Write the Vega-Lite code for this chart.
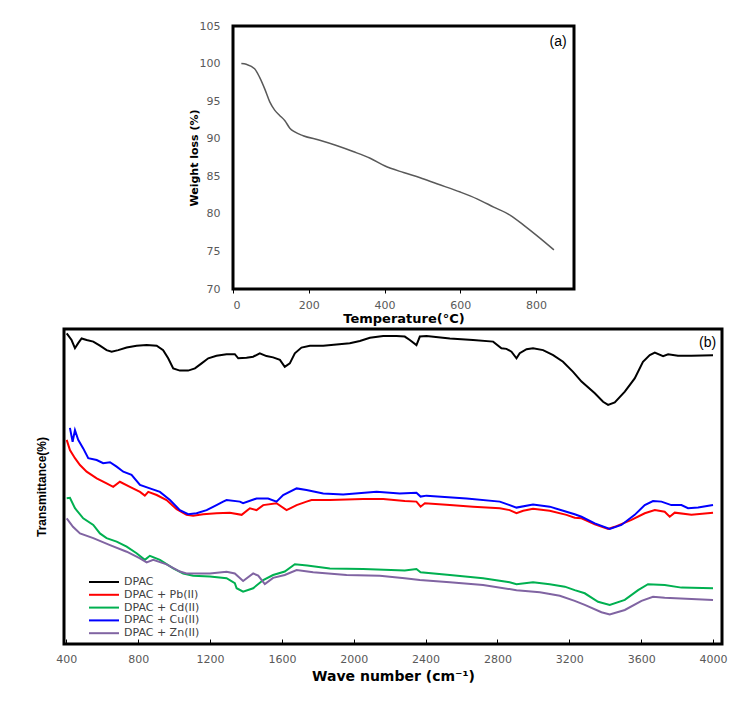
{
  "$schema": "https://vega.github.io/schema/vega-lite/v6.json",
  "background": "white",
  "padding": {"left": 33, "top": 18, "right": 5, "bottom": 5},
  "spacing": 0,
  "config": {
    "view": {"stroke": "black", "strokeWidth": 3},
    "font": "DejaVu Sans",
    "axis": {"grid": false, "domain": false, "labelOverlap": false, "labelFont": "DejaVu Sans", "titleFont": "DejaVu Sans", "labelColor": "#595959", "titleColor": "black", "titleFontWeight": "bold", "tickColor": "black"}
  },
  "resolve": {"scale": {"color": "independent"}, "legend": {"color": "independent"}},
  "datasets": {
    "tga": [
      {"temperature": 22, "weight": 100.0},
      {"temperature": 35, "weight": 99.9},
      {"temperature": 57, "weight": 99.3},
      {"temperature": 70, "weight": 98.2},
      {"temperature": 84, "weight": 96.6},
      {"temperature": 97, "weight": 94.9},
      {"temperature": 110, "weight": 93.8},
      {"temperature": 123, "weight": 93.1},
      {"temperature": 137, "weight": 92.4},
      {"temperature": 150, "weight": 91.4},
      {"temperature": 163, "weight": 90.9},
      {"temperature": 185, "weight": 90.4},
      {"temperature": 229, "weight": 89.8},
      {"temperature": 273, "weight": 89.1},
      {"temperature": 317, "weight": 88.3},
      {"temperature": 362, "weight": 87.4},
      {"temperature": 400, "weight": 86.4},
      {"temperature": 450, "weight": 85.5},
      {"temperature": 494, "weight": 84.8},
      {"temperature": 538, "weight": 84.0},
      {"temperature": 600, "weight": 82.9},
      {"temperature": 644, "weight": 82.0},
      {"temperature": 688, "weight": 80.9},
      {"temperature": 732, "weight": 79.8},
      {"temperature": 767, "weight": 78.5},
      {"temperature": 802, "weight": 77.1},
      {"temperature": 847, "weight": 75.2}
    ],
    "tagA": [{"temperature": 858, "weight": 102.9, "label": "(a)"}],
    "tagB": [{"wavenumber": 3970, "transmittance": 95.6, "label": "(b)"}],
    "ftir": [
      {"series": "DPAC", "wavenumber": 402, "transmittance": 98.6},
      {"series": "DPAC", "wavenumber": 429, "transmittance": 96.5},
      {"series": "DPAC", "wavenumber": 448, "transmittance": 93.9},
      {"series": "DPAC", "wavenumber": 466, "transmittance": 95.5},
      {"series": "DPAC", "wavenumber": 485, "transmittance": 97.0},
      {"series": "DPAC", "wavenumber": 513, "transmittance": 96.5},
      {"series": "DPAC", "wavenumber": 550, "transmittance": 96.0},
      {"series": "DPAC", "wavenumber": 587, "transmittance": 94.7},
      {"series": "DPAC", "wavenumber": 624, "transmittance": 93.3},
      {"series": "DPAC", "wavenumber": 652, "transmittance": 92.8},
      {"series": "DPAC", "wavenumber": 689, "transmittance": 93.3},
      {"series": "DPAC", "wavenumber": 736, "transmittance": 94.1},
      {"series": "DPAC", "wavenumber": 791, "transmittance": 94.7},
      {"series": "DPAC", "wavenumber": 847, "transmittance": 94.9},
      {"series": "DPAC", "wavenumber": 903, "transmittance": 94.7},
      {"series": "DPAC", "wavenumber": 939, "transmittance": 93.3},
      {"series": "DPAC", "wavenumber": 967, "transmittance": 90.7},
      {"series": "DPAC", "wavenumber": 995, "transmittance": 87.5},
      {"series": "DPAC", "wavenumber": 1032, "transmittance": 86.8},
      {"series": "DPAC", "wavenumber": 1078, "transmittance": 86.8},
      {"series": "DPAC", "wavenumber": 1116, "transmittance": 87.5},
      {"series": "DPAC", "wavenumber": 1153, "transmittance": 89.1},
      {"series": "DPAC", "wavenumber": 1190, "transmittance": 90.7},
      {"series": "DPAC", "wavenumber": 1236, "transmittance": 91.5},
      {"series": "DPAC", "wavenumber": 1292, "transmittance": 92.0},
      {"series": "DPAC", "wavenumber": 1338, "transmittance": 92.0},
      {"series": "DPAC", "wavenumber": 1357, "transmittance": 90.7},
      {"series": "DPAC", "wavenumber": 1403, "transmittance": 90.9},
      {"series": "DPAC", "wavenumber": 1440, "transmittance": 91.2},
      {"series": "DPAC", "wavenumber": 1477, "transmittance": 92.3},
      {"series": "DPAC", "wavenumber": 1514, "transmittance": 91.4},
      {"series": "DPAC", "wavenumber": 1551, "transmittance": 91.0},
      {"series": "DPAC", "wavenumber": 1589, "transmittance": 90.2},
      {"series": "DPAC", "wavenumber": 1616, "transmittance": 88.0},
      {"series": "DPAC", "wavenumber": 1644, "transmittance": 89.1},
      {"series": "DPAC", "wavenumber": 1672, "transmittance": 92.3},
      {"series": "DPAC", "wavenumber": 1709, "transmittance": 94.1},
      {"series": "DPAC", "wavenumber": 1756, "transmittance": 94.7},
      {"series": "DPAC", "wavenumber": 1830, "transmittance": 94.7},
      {"series": "DPAC", "wavenumber": 1904, "transmittance": 95.1},
      {"series": "DPAC", "wavenumber": 1978, "transmittance": 95.5},
      {"series": "DPAC", "wavenumber": 2034, "transmittance": 96.2},
      {"series": "DPAC", "wavenumber": 2090, "transmittance": 97.2},
      {"series": "DPAC", "wavenumber": 2164, "transmittance": 97.8},
      {"series": "DPAC", "wavenumber": 2238, "transmittance": 97.8},
      {"series": "DPAC", "wavenumber": 2284, "transmittance": 97.6},
      {"series": "DPAC", "wavenumber": 2312, "transmittance": 96.5},
      {"series": "DPAC", "wavenumber": 2349, "transmittance": 94.9},
      {"series": "DPAC", "wavenumber": 2368, "transmittance": 97.6},
      {"series": "DPAC", "wavenumber": 2405, "transmittance": 97.8},
      {"series": "DPAC", "wavenumber": 2535, "transmittance": 97.0},
      {"series": "DPAC", "wavenumber": 2664, "transmittance": 96.5},
      {"series": "DPAC", "wavenumber": 2776, "transmittance": 96.0},
      {"series": "DPAC", "wavenumber": 2822, "transmittance": 93.9},
      {"series": "DPAC", "wavenumber": 2850, "transmittance": 93.7},
      {"series": "DPAC", "wavenumber": 2878, "transmittance": 92.8},
      {"series": "DPAC", "wavenumber": 2906, "transmittance": 90.7},
      {"series": "DPAC", "wavenumber": 2924, "transmittance": 92.3},
      {"series": "DPAC", "wavenumber": 2962, "transmittance": 93.6},
      {"series": "DPAC", "wavenumber": 2998, "transmittance": 93.9},
      {"series": "DPAC", "wavenumber": 3054, "transmittance": 93.3},
      {"series": "DPAC", "wavenumber": 3110, "transmittance": 91.7},
      {"series": "DPAC", "wavenumber": 3165, "transmittance": 89.6},
      {"series": "DPAC", "wavenumber": 3221, "transmittance": 86.4},
      {"series": "DPAC", "wavenumber": 3268, "transmittance": 83.3},
      {"series": "DPAC", "wavenumber": 3342, "transmittance": 79.6},
      {"series": "DPAC", "wavenumber": 3388, "transmittance": 76.9},
      {"series": "DPAC", "wavenumber": 3416, "transmittance": 75.9},
      {"series": "DPAC", "wavenumber": 3453, "transmittance": 76.7},
      {"series": "DPAC", "wavenumber": 3509, "transmittance": 80.1},
      {"series": "DPAC", "wavenumber": 3564, "transmittance": 84.3},
      {"series": "DPAC", "wavenumber": 3610, "transmittance": 89.6},
      {"series": "DPAC", "wavenumber": 3648, "transmittance": 91.7},
      {"series": "DPAC", "wavenumber": 3676, "transmittance": 92.5},
      {"series": "DPAC", "wavenumber": 3722, "transmittance": 91.4},
      {"series": "DPAC", "wavenumber": 3750, "transmittance": 92.0},
      {"series": "DPAC", "wavenumber": 3805, "transmittance": 91.5},
      {"series": "DPAC", "wavenumber": 3880, "transmittance": 91.5},
      {"series": "DPAC", "wavenumber": 4000, "transmittance": 91.7},

      {"series": "DPAC + Pb(II)", "wavenumber": 402, "transmittance": 64.8},
      {"series": "DPAC + Pb(II)", "wavenumber": 420, "transmittance": 61.6},
      {"series": "DPAC + Pb(II)", "wavenumber": 448, "transmittance": 59.0},
      {"series": "DPAC + Pb(II)", "wavenumber": 476, "transmittance": 56.8},
      {"series": "DPAC + Pb(II)", "wavenumber": 513, "transmittance": 54.7},
      {"series": "DPAC + Pb(II)", "wavenumber": 569, "transmittance": 52.6},
      {"series": "DPAC + Pb(II)", "wavenumber": 624, "transmittance": 51.0},
      {"series": "DPAC + Pb(II)", "wavenumber": 661, "transmittance": 49.9},
      {"series": "DPAC + Pb(II)", "wavenumber": 698, "transmittance": 51.5},
      {"series": "DPAC + Pb(II)", "wavenumber": 754, "transmittance": 49.9},
      {"series": "DPAC + Pb(II)", "wavenumber": 810, "transmittance": 48.3},
      {"series": "DPAC + Pb(II)", "wavenumber": 837, "transmittance": 47.1},
      {"series": "DPAC + Pb(II)", "wavenumber": 856, "transmittance": 48.3},
      {"series": "DPAC + Pb(II)", "wavenumber": 903, "transmittance": 47.3},
      {"series": "DPAC + Pb(II)", "wavenumber": 958, "transmittance": 45.7},
      {"series": "DPAC + Pb(II)", "wavenumber": 1014, "transmittance": 42.8},
      {"series": "DPAC + Pb(II)", "wavenumber": 1069, "transmittance": 41.0},
      {"series": "DPAC + Pb(II)", "wavenumber": 1106, "transmittance": 40.7},
      {"series": "DPAC + Pb(II)", "wavenumber": 1162, "transmittance": 41.2},
      {"series": "DPAC + Pb(II)", "wavenumber": 1236, "transmittance": 41.5},
      {"series": "DPAC + Pb(II)", "wavenumber": 1310, "transmittance": 41.7},
      {"series": "DPAC + Pb(II)", "wavenumber": 1376, "transmittance": 41.0},
      {"series": "DPAC + Pb(II)", "wavenumber": 1422, "transmittance": 43.1},
      {"series": "DPAC + Pb(II)", "wavenumber": 1459, "transmittance": 42.5},
      {"series": "DPAC + Pb(II)", "wavenumber": 1496, "transmittance": 44.1},
      {"series": "DPAC + Pb(II)", "wavenumber": 1570, "transmittance": 44.7},
      {"series": "DPAC + Pb(II)", "wavenumber": 1626, "transmittance": 42.5},
      {"series": "DPAC + Pb(II)", "wavenumber": 1682, "transmittance": 44.1},
      {"series": "DPAC + Pb(II)", "wavenumber": 1737, "transmittance": 45.2},
      {"series": "DPAC + Pb(II)", "wavenumber": 1765, "transmittance": 45.7},
      {"series": "DPAC + Pb(II)", "wavenumber": 1867, "transmittance": 45.7},
      {"series": "DPAC + Pb(II)", "wavenumber": 2052, "transmittance": 46.0},
      {"series": "DPAC + Pb(II)", "wavenumber": 2164, "transmittance": 46.0},
      {"series": "DPAC + Pb(II)", "wavenumber": 2284, "transmittance": 45.4},
      {"series": "DPAC + Pb(II)", "wavenumber": 2349, "transmittance": 45.2},
      {"series": "DPAC + Pb(II)", "wavenumber": 2372, "transmittance": 43.6},
      {"series": "DPAC + Pb(II)", "wavenumber": 2396, "transmittance": 44.7},
      {"series": "DPAC + Pb(II)", "wavenumber": 2535, "transmittance": 44.1},
      {"series": "DPAC + Pb(II)", "wavenumber": 2664, "transmittance": 43.6},
      {"series": "DPAC + Pb(II)", "wavenumber": 2813, "transmittance": 43.1},
      {"series": "DPAC + Pb(II)", "wavenumber": 2868, "transmittance": 42.5},
      {"series": "DPAC + Pb(II)", "wavenumber": 2906, "transmittance": 41.5},
      {"series": "DPAC + Pb(II)", "wavenumber": 2943, "transmittance": 42.3},
      {"series": "DPAC + Pb(II)", "wavenumber": 2998, "transmittance": 42.9},
      {"series": "DPAC + Pb(II)", "wavenumber": 3091, "transmittance": 42.3},
      {"series": "DPAC + Pb(II)", "wavenumber": 3184, "transmittance": 41.0},
      {"series": "DPAC + Pb(II)", "wavenumber": 3230, "transmittance": 40.1},
      {"series": "DPAC + Pb(II)", "wavenumber": 3268, "transmittance": 39.9},
      {"series": "DPAC + Pb(II)", "wavenumber": 3342, "transmittance": 38.0},
      {"series": "DPAC + Pb(II)", "wavenumber": 3416, "transmittance": 36.5},
      {"series": "DPAC + Pb(II)", "wavenumber": 3453, "transmittance": 37.2},
      {"series": "DPAC + Pb(II)", "wavenumber": 3546, "transmittance": 39.4},
      {"series": "DPAC + Pb(II)", "wavenumber": 3620, "transmittance": 41.5},
      {"series": "DPAC + Pb(II)", "wavenumber": 3676, "transmittance": 42.5},
      {"series": "DPAC + Pb(II)", "wavenumber": 3731, "transmittance": 42.0},
      {"series": "DPAC + Pb(II)", "wavenumber": 3759, "transmittance": 40.4},
      {"series": "DPAC + Pb(II)", "wavenumber": 3787, "transmittance": 41.7},
      {"series": "DPAC + Pb(II)", "wavenumber": 3880, "transmittance": 41.0},
      {"series": "DPAC + Pb(II)", "wavenumber": 4000, "transmittance": 41.7},

      {"series": "DPAC + Cd(II)", "wavenumber": 402, "transmittance": 46.3},
      {"series": "DPAC + Cd(II)", "wavenumber": 420, "transmittance": 46.4},
      {"series": "DPAC + Cd(II)", "wavenumber": 448, "transmittance": 43.1},
      {"series": "DPAC + Cd(II)", "wavenumber": 494, "transmittance": 39.9},
      {"series": "DPAC + Cd(II)", "wavenumber": 550, "transmittance": 37.8},
      {"series": "DPAC + Cd(II)", "wavenumber": 587, "transmittance": 35.1},
      {"series": "DPAC + Cd(II)", "wavenumber": 624, "transmittance": 33.6},
      {"series": "DPAC + Cd(II)", "wavenumber": 680, "transmittance": 32.5},
      {"series": "DPAC + Cd(II)", "wavenumber": 736, "transmittance": 30.9},
      {"series": "DPAC + Cd(II)", "wavenumber": 791, "transmittance": 28.8},
      {"series": "DPAC + Cd(II)", "wavenumber": 837, "transmittance": 26.7},
      {"series": "DPAC + Cd(II)", "wavenumber": 865, "transmittance": 28.0},
      {"series": "DPAC + Cd(II)", "wavenumber": 921, "transmittance": 26.7},
      {"series": "DPAC + Cd(II)", "wavenumber": 995, "transmittance": 24.0},
      {"series": "DPAC + Cd(II)", "wavenumber": 1051, "transmittance": 22.4},
      {"series": "DPAC + Cd(II)", "wavenumber": 1106, "transmittance": 21.7},
      {"series": "DPAC + Cd(II)", "wavenumber": 1199, "transmittance": 21.4},
      {"series": "DPAC + Cd(II)", "wavenumber": 1292, "transmittance": 20.9},
      {"series": "DPAC + Cd(II)", "wavenumber": 1338, "transmittance": 19.3},
      {"series": "DPAC + Cd(II)", "wavenumber": 1348, "transmittance": 17.7},
      {"series": "DPAC + Cd(II)", "wavenumber": 1384, "transmittance": 16.6},
      {"series": "DPAC + Cd(II)", "wavenumber": 1440, "transmittance": 17.7},
      {"series": "DPAC + Cd(II)", "wavenumber": 1496, "transmittance": 20.3},
      {"series": "DPAC + Cd(II)", "wavenumber": 1551, "transmittance": 21.9},
      {"series": "DPAC + Cd(II)", "wavenumber": 1616, "transmittance": 23.0},
      {"series": "DPAC + Cd(II)", "wavenumber": 1672, "transmittance": 25.3},
      {"series": "DPAC + Cd(II)", "wavenumber": 1741, "transmittance": 24.9},
      {"series": "DPAC + Cd(II)", "wavenumber": 1867, "transmittance": 24.0},
      {"series": "DPAC + Cd(II)", "wavenumber": 2052, "transmittance": 23.8},
      {"series": "DPAC + Cd(II)", "wavenumber": 2284, "transmittance": 23.3},
      {"series": "DPAC + Cd(II)", "wavenumber": 2349, "transmittance": 23.8},
      {"series": "DPAC + Cd(II)", "wavenumber": 2372, "transmittance": 22.8},
      {"series": "DPAC + Cd(II)", "wavenumber": 2535, "transmittance": 21.9},
      {"series": "DPAC + Cd(II)", "wavenumber": 2720, "transmittance": 20.9},
      {"series": "DPAC + Cd(II)", "wavenumber": 2868, "transmittance": 19.6},
      {"series": "DPAC + Cd(II)", "wavenumber": 2906, "transmittance": 19.0},
      {"series": "DPAC + Cd(II)", "wavenumber": 2998, "transmittance": 19.6},
      {"series": "DPAC + Cd(II)", "wavenumber": 3091, "transmittance": 19.0},
      {"series": "DPAC + Cd(II)", "wavenumber": 3175, "transmittance": 18.2},
      {"series": "DPAC + Cd(II)", "wavenumber": 3230, "transmittance": 17.1},
      {"series": "DPAC + Cd(II)", "wavenumber": 3286, "transmittance": 16.1},
      {"series": "DPAC + Cd(II)", "wavenumber": 3360, "transmittance": 13.4},
      {"series": "DPAC + Cd(II)", "wavenumber": 3425, "transmittance": 12.4},
      {"series": "DPAC + Cd(II)", "wavenumber": 3509, "transmittance": 14.0},
      {"series": "DPAC + Cd(II)", "wavenumber": 3583, "transmittance": 17.1},
      {"series": "DPAC + Cd(II)", "wavenumber": 3638, "transmittance": 19.0},
      {"series": "DPAC + Cd(II)", "wavenumber": 3731, "transmittance": 18.7},
      {"series": "DPAC + Cd(II)", "wavenumber": 3824, "transmittance": 17.9},
      {"series": "DPAC + Cd(II)", "wavenumber": 4000, "transmittance": 17.7},

      {"series": "DPAC + Cu(II)", "wavenumber": 420, "transmittance": 68.6},
      {"series": "DPAC + Cu(II)", "wavenumber": 435, "transmittance": 64.2},
      {"series": "DPAC + Cu(II)", "wavenumber": 448, "transmittance": 67.9},
      {"series": "DPAC + Cu(II)", "wavenumber": 466, "transmittance": 64.8},
      {"series": "DPAC + Cu(II)", "wavenumber": 494, "transmittance": 62.1},
      {"series": "DPAC + Cu(II)", "wavenumber": 522, "transmittance": 59.0},
      {"series": "DPAC + Cu(II)", "wavenumber": 569, "transmittance": 58.4},
      {"series": "DPAC + Cu(II)", "wavenumber": 605, "transmittance": 57.4},
      {"series": "DPAC + Cu(II)", "wavenumber": 643, "transmittance": 57.7},
      {"series": "DPAC + Cu(II)", "wavenumber": 680, "transmittance": 56.3},
      {"series": "DPAC + Cu(II)", "wavenumber": 717, "transmittance": 54.7},
      {"series": "DPAC + Cu(II)", "wavenumber": 763, "transmittance": 53.7},
      {"series": "DPAC + Cu(II)", "wavenumber": 810, "transmittance": 50.5},
      {"series": "DPAC + Cu(II)", "wavenumber": 865, "transmittance": 49.4},
      {"series": "DPAC + Cu(II)", "wavenumber": 921, "transmittance": 48.3},
      {"series": "DPAC + Cu(II)", "wavenumber": 977, "transmittance": 45.7},
      {"series": "DPAC + Cu(II)", "wavenumber": 1032, "transmittance": 42.5},
      {"series": "DPAC + Cu(II)", "wavenumber": 1078, "transmittance": 41.2},
      {"series": "DPAC + Cu(II)", "wavenumber": 1125, "transmittance": 41.5},
      {"series": "DPAC + Cu(II)", "wavenumber": 1181, "transmittance": 42.5},
      {"series": "DPAC + Cu(II)", "wavenumber": 1236, "transmittance": 44.1},
      {"series": "DPAC + Cu(II)", "wavenumber": 1273, "transmittance": 45.2},
      {"series": "DPAC + Cu(II)", "wavenumber": 1292, "transmittance": 45.7},
      {"series": "DPAC + Cu(II)", "wavenumber": 1366, "transmittance": 45.2},
      {"series": "DPAC + Cu(II)", "wavenumber": 1384, "transmittance": 44.7},
      {"series": "DPAC + Cu(II)", "wavenumber": 1459, "transmittance": 46.2},
      {"series": "DPAC + Cu(II)", "wavenumber": 1523, "transmittance": 46.2},
      {"series": "DPAC + Cu(II)", "wavenumber": 1570, "transmittance": 45.2},
      {"series": "DPAC + Cu(II)", "wavenumber": 1607, "transmittance": 47.3},
      {"series": "DPAC + Cu(II)", "wavenumber": 1682, "transmittance": 49.4},
      {"series": "DPAC + Cu(II)", "wavenumber": 1737, "transmittance": 48.9},
      {"series": "DPAC + Cu(II)", "wavenumber": 1830, "transmittance": 47.8},
      {"series": "DPAC + Cu(II)", "wavenumber": 1941, "transmittance": 47.5},
      {"series": "DPAC + Cu(II)", "wavenumber": 2127, "transmittance": 48.3},
      {"series": "DPAC + Cu(II)", "wavenumber": 2256, "transmittance": 47.8},
      {"series": "DPAC + Cu(II)", "wavenumber": 2349, "transmittance": 48.0},
      {"series": "DPAC + Cu(II)", "wavenumber": 2372, "transmittance": 46.8},
      {"series": "DPAC + Cu(II)", "wavenumber": 2405, "transmittance": 47.1},
      {"series": "DPAC + Cu(II)", "wavenumber": 2628, "transmittance": 46.2},
      {"series": "DPAC + Cu(II)", "wavenumber": 2813, "transmittance": 45.2},
      {"series": "DPAC + Cu(II)", "wavenumber": 2906, "transmittance": 43.3},
      {"series": "DPAC + Cu(II)", "wavenumber": 2998, "transmittance": 44.3},
      {"series": "DPAC + Cu(II)", "wavenumber": 3091, "transmittance": 43.6},
      {"series": "DPAC + Cu(II)", "wavenumber": 3184, "transmittance": 42.0},
      {"series": "DPAC + Cu(II)", "wavenumber": 3230, "transmittance": 41.2},
      {"series": "DPAC + Cu(II)", "wavenumber": 3268, "transmittance": 40.4},
      {"series": "DPAC + Cu(II)", "wavenumber": 3342, "transmittance": 38.3},
      {"series": "DPAC + Cu(II)", "wavenumber": 3425, "transmittance": 36.5},
      {"series": "DPAC + Cu(II)", "wavenumber": 3490, "transmittance": 37.8},
      {"series": "DPAC + Cu(II)", "wavenumber": 3564, "transmittance": 41.0},
      {"series": "DPAC + Cu(II)", "wavenumber": 3620, "transmittance": 44.1},
      {"series": "DPAC + Cu(II)", "wavenumber": 3666, "transmittance": 45.4},
      {"series": "DPAC + Cu(II)", "wavenumber": 3713, "transmittance": 45.2},
      {"series": "DPAC + Cu(II)", "wavenumber": 3768, "transmittance": 44.1},
      {"series": "DPAC + Cu(II)", "wavenumber": 3824, "transmittance": 44.1},
      {"series": "DPAC + Cu(II)", "wavenumber": 3861, "transmittance": 43.1},
      {"series": "DPAC + Cu(II)", "wavenumber": 3917, "transmittance": 43.3},
      {"series": "DPAC + Cu(II)", "wavenumber": 4000, "transmittance": 44.1},

      {"series": "DPAC + Zn(II)", "wavenumber": 402, "transmittance": 39.9},
      {"series": "DPAC + Zn(II)", "wavenumber": 437, "transmittance": 37.2},
      {"series": "DPAC + Zn(II)", "wavenumber": 476, "transmittance": 35.1},
      {"series": "DPAC + Zn(II)", "wavenumber": 550, "transmittance": 33.6},
      {"series": "DPAC + Zn(II)", "wavenumber": 643, "transmittance": 31.4},
      {"series": "DPAC + Zn(II)", "wavenumber": 736, "transmittance": 29.3},
      {"series": "DPAC + Zn(II)", "wavenumber": 810, "transmittance": 27.2},
      {"series": "DPAC + Zn(II)", "wavenumber": 847, "transmittance": 25.9},
      {"series": "DPAC + Zn(II)", "wavenumber": 884, "transmittance": 26.7},
      {"series": "DPAC + Zn(II)", "wavenumber": 958, "transmittance": 25.3},
      {"series": "DPAC + Zn(II)", "wavenumber": 1032, "transmittance": 23.0},
      {"series": "DPAC + Zn(II)", "wavenumber": 1069, "transmittance": 22.4},
      {"series": "DPAC + Zn(II)", "wavenumber": 1199, "transmittance": 22.4},
      {"series": "DPAC + Zn(II)", "wavenumber": 1292, "transmittance": 22.9},
      {"series": "DPAC + Zn(II)", "wavenumber": 1338, "transmittance": 22.4},
      {"series": "DPAC + Zn(II)", "wavenumber": 1384, "transmittance": 20.0},
      {"series": "DPAC + Zn(II)", "wavenumber": 1440, "transmittance": 22.4},
      {"series": "DPAC + Zn(II)", "wavenumber": 1468, "transmittance": 21.7},
      {"series": "DPAC + Zn(II)", "wavenumber": 1505, "transmittance": 19.0},
      {"series": "DPAC + Zn(II)", "wavenumber": 1551, "transmittance": 21.0},
      {"series": "DPAC + Zn(II)", "wavenumber": 1616, "transmittance": 21.9},
      {"series": "DPAC + Zn(II)", "wavenumber": 1682, "transmittance": 23.5},
      {"series": "DPAC + Zn(II)", "wavenumber": 1774, "transmittance": 22.8},
      {"series": "DPAC + Zn(II)", "wavenumber": 1960, "transmittance": 21.9},
      {"series": "DPAC + Zn(II)", "wavenumber": 2145, "transmittance": 21.7},
      {"series": "DPAC + Zn(II)", "wavenumber": 2284, "transmittance": 20.9},
      {"series": "DPAC + Zn(II)", "wavenumber": 2368, "transmittance": 20.3},
      {"series": "DPAC + Zn(II)", "wavenumber": 2535, "transmittance": 19.6},
      {"series": "DPAC + Zn(II)", "wavenumber": 2720, "transmittance": 18.7},
      {"series": "DPAC + Zn(II)", "wavenumber": 2906, "transmittance": 17.1},
      {"series": "DPAC + Zn(II)", "wavenumber": 3036, "transmittance": 16.4},
      {"series": "DPAC + Zn(II)", "wavenumber": 3147, "transmittance": 15.3},
      {"series": "DPAC + Zn(II)", "wavenumber": 3230, "transmittance": 13.7},
      {"series": "DPAC + Zn(II)", "wavenumber": 3286, "transmittance": 12.4},
      {"series": "DPAC + Zn(II)", "wavenumber": 3379, "transmittance": 10.1},
      {"series": "DPAC + Zn(II)", "wavenumber": 3425, "transmittance": 9.4},
      {"series": "DPAC + Zn(II)", "wavenumber": 3509, "transmittance": 10.8},
      {"series": "DPAC + Zn(II)", "wavenumber": 3602, "transmittance": 13.7},
      {"series": "DPAC + Zn(II)", "wavenumber": 3666, "transmittance": 15.0},
      {"series": "DPAC + Zn(II)", "wavenumber": 3731, "transmittance": 14.7},
      {"series": "DPAC + Zn(II)", "wavenumber": 3880, "transmittance": 14.3},
      {"series": "DPAC + Zn(II)", "wavenumber": 4000, "transmittance": 14.0}
    ]
  },
  "vconcat": [
    {
      "spacing": 0,
      "hconcat": [
        {
          "width": 122,
          "height": 10,
          "data": {"values": []},
          "mark": "point",
          "view": {"stroke": null}
        },
        {
          "width": 341,
          "height": 263,
          "layer": [
            {
              "data": {"name": "tga"},
              "mark": {"type": "line", "color": "#595959", "strokeWidth": 1.5, "interpolate": "monotone"},
              "encoding": {
                "x": {"field": "temperature", "type": "quantitative", "scale": {"domain": [0, 900], "nice": false},
                  "axis": {"title": "Temperature(°C)", "values": [0, 200, 400, 600, 800], "tickCount": 10, "labelOverlap": false, "tickSize": 4, "labelPadding": 6, "labelFontSize": 11, "titleFontSize": 13, "titlePadding": 2}},
                "y": {"field": "weight", "type": "quantitative", "scale": {"domain": [70, 105], "nice": false, "zero": false},
                  "axis": {"title": "Weight loss (%)", "values": [70, 75, 80, 85, 90, 95, 100, 105], "tickCount": 10, "labelOverlap": false, "ticks": false, "labelPadding": 13, "labelFontSize": 11, "titleFontSize": 11, "titlePadding": 0}}
              }
            },
            {
              "data": {"name": "tagA"},
              "mark": {"type": "text", "font": "Liberation Sans", "fontSize": 14, "color": "black"},
              "encoding": {
                "x": {"field": "temperature", "type": "quantitative"},
                "y": {"field": "weight", "type": "quantitative"},
                "text": {"field": "label"}
              }
            }
          ]
        }
      ]
    },
    {
      "width": 658,
      "height": 315,
      "layer": [
        {
          "data": {"name": "ftir"},
          "mark": {"type": "line", "strokeWidth": 2},
          "encoding": {
            "x": {"field": "wavenumber", "type": "quantitative", "scale": {"domain": [387, 4050], "nice": false},
              "axis": {"title": "Wave number (cm⁻¹)", "format": "d", "values": [400, 800, 1200, 1600, 2000, 2400, 2800, 3200, 3600, 4000], "tickCount": 12, "labelOverlap": false, "tickSize": -5, "labelPadding": 14, "labelFontSize": 11, "titleFontSize": 14, "titlePadding": 5}},
            "y": {"field": "transmittance", "type": "quantitative", "scale": {"domain": [0, 100], "nice": false},
              "axis": {"title": "Transmittance(%)", "labels": false, "ticks": false, "titleFont": "Liberation Sans", "titleFontSize": 12, "titlePadding": 16}},
            "color": {"field": "series", "type": "nominal",
              "scale": {"domain": ["DPAC", "DPAC + Pb(II)", "DPAC + Cd(II)", "DPAC + Cu(II)", "DPAC + Zn(II)"], "range": ["#000000", "#ff0000", "#00b050", "#0000ff", "#8064a2"]},
              "legend": {"title": null, "orient": "none", "legendX": 34, "legendY": 247, "symbolType": "M-3,0H3", "symbolSize": 100, "symbolStrokeWidth": 2, "labelFont": "DejaVu Sans", "labelFontSize": 11, "labelColor": "#404040", "labelOffset": 14, "rowPadding": 1.8, "padding": 0}}
          }
        },
        {
          "data": {"name": "tagB"},
          "mark": {"type": "text", "font": "Liberation Sans", "fontSize": 14, "color": "black"},
          "encoding": {
            "x": {"field": "wavenumber", "type": "quantitative"},
            "y": {"field": "transmittance", "type": "quantitative"},
            "text": {"field": "label"}
          }
        }
      ]
    }
  ]
}
